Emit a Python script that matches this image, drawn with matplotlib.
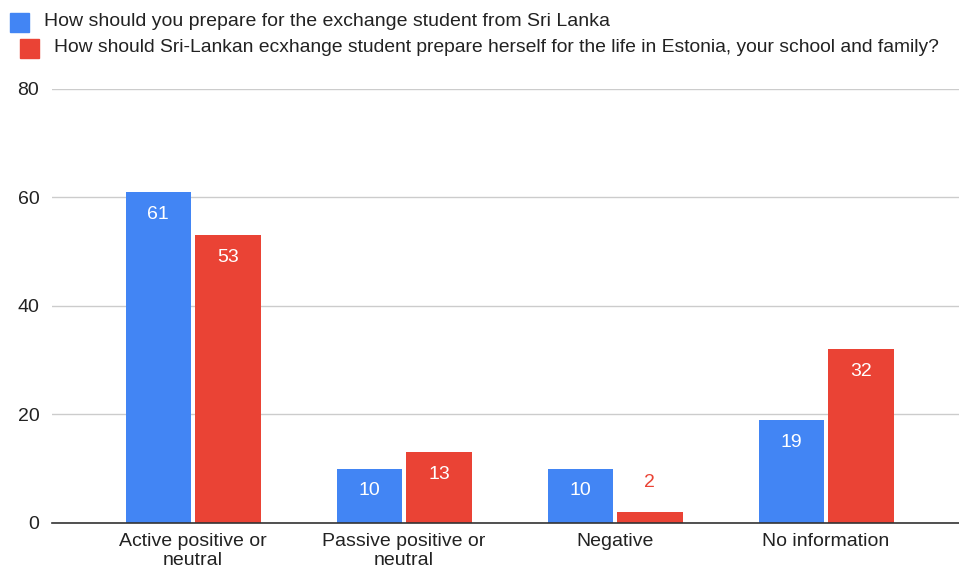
import numpy as np
import matplotlib.pyplot as plt

plt.rcParams['font.family'] = ['Liberation Sans', 'DejaVu Sans']

categories = ['Active positive or\nneutral', 'Passive positive or\nneutral', 'Negative', 'No information']
prepare_you = [61, 10, 10, 19]
prepare_student = [53, 13, 2, 32]
series_names = ['How should you prepare for the exchange student from Sri Lanka',
                'How should Sri-Lankan ecxhange student prepare herself for the life in Estonia, your school and family?']

blue = '#4285F4'
red = '#EA4335'

fig = plt.figure(figsize=(9.59, 5.7), dpi=100)
ax = fig.add_axes([0.054, 0.0825, 0.946, 0.7614])

x = np.arange(len(categories))
w = 0.31
gap = 0.01
b1 = ax.bar(x - w / 2 - gap, prepare_you, w, color=blue, zorder=3)
b2 = ax.bar(x + w / 2 + gap, prepare_student, w, color=red, zorder=3)

# value labels: white inside the bar, coloured above when the bar is too short
for bars, vals, col in [(b1, prepare_you, blue), (b2, prepare_student, red)]:
    for rect, v in zip(bars, vals):
        cx = rect.get_x() + rect.get_width() / 2
        if v >= 5:
            ax.annotate(str(v), (cx, v), xytext=(0, -16), textcoords='offset points',
                        ha='center', va='center', color='white', fontsize=14, zorder=4)
        else:
            ax.annotate(str(v), (cx, v), xytext=(0, 21), textcoords='offset points',
                        ha='center', va='center', color=col, fontsize=14, zorder=4)

ax.set_ylim(0, 80)
ax.set_xlim(-0.67, 3.63)
ax.set_yticks([0, 20, 40, 60, 80])
ax.set_xticks(x)
ax.set_xticklabels(categories, fontsize=14, color='#222222', linespacing=1.15)
ax.tick_params(axis='both', length=0, labelsize=14, colors='#222222')
ax.tick_params(axis='x', pad=7)
ax.tick_params(axis='y', pad=9)
ax.yaxis.grid(True, color='#cccccc', linewidth=1, zorder=0)
for s in ['top', 'right', 'left']:
    ax.spines[s].set_visible(False)
ax.spines['bottom'].set_color('#333333')
ax.spines['bottom'].set_linewidth(1.2)
ax.spines['bottom'].set_zorder(5)

# legend entries laid out by hand, second one slightly indented
fig.patches.append(plt.Rectangle((10 / 959, 1 - 32 / 570), 19 / 959, 19 / 570,
                                 transform=fig.transFigure, color=blue))
fig.text(44 / 959, 1 - 22 / 570, series_names[0], fontsize=14, va='center', color='#222222')
fig.patches.append(plt.Rectangle((20 / 959, 1 - 58 / 570), 19 / 959, 19 / 570,
                                 transform=fig.transFigure, color=red))
fig.text(54 / 959, 1 - 48 / 570, series_names[1], fontsize=13.9, va='center', color='#222222')

fig.savefig('out.png', dpi=100, facecolor='white')
